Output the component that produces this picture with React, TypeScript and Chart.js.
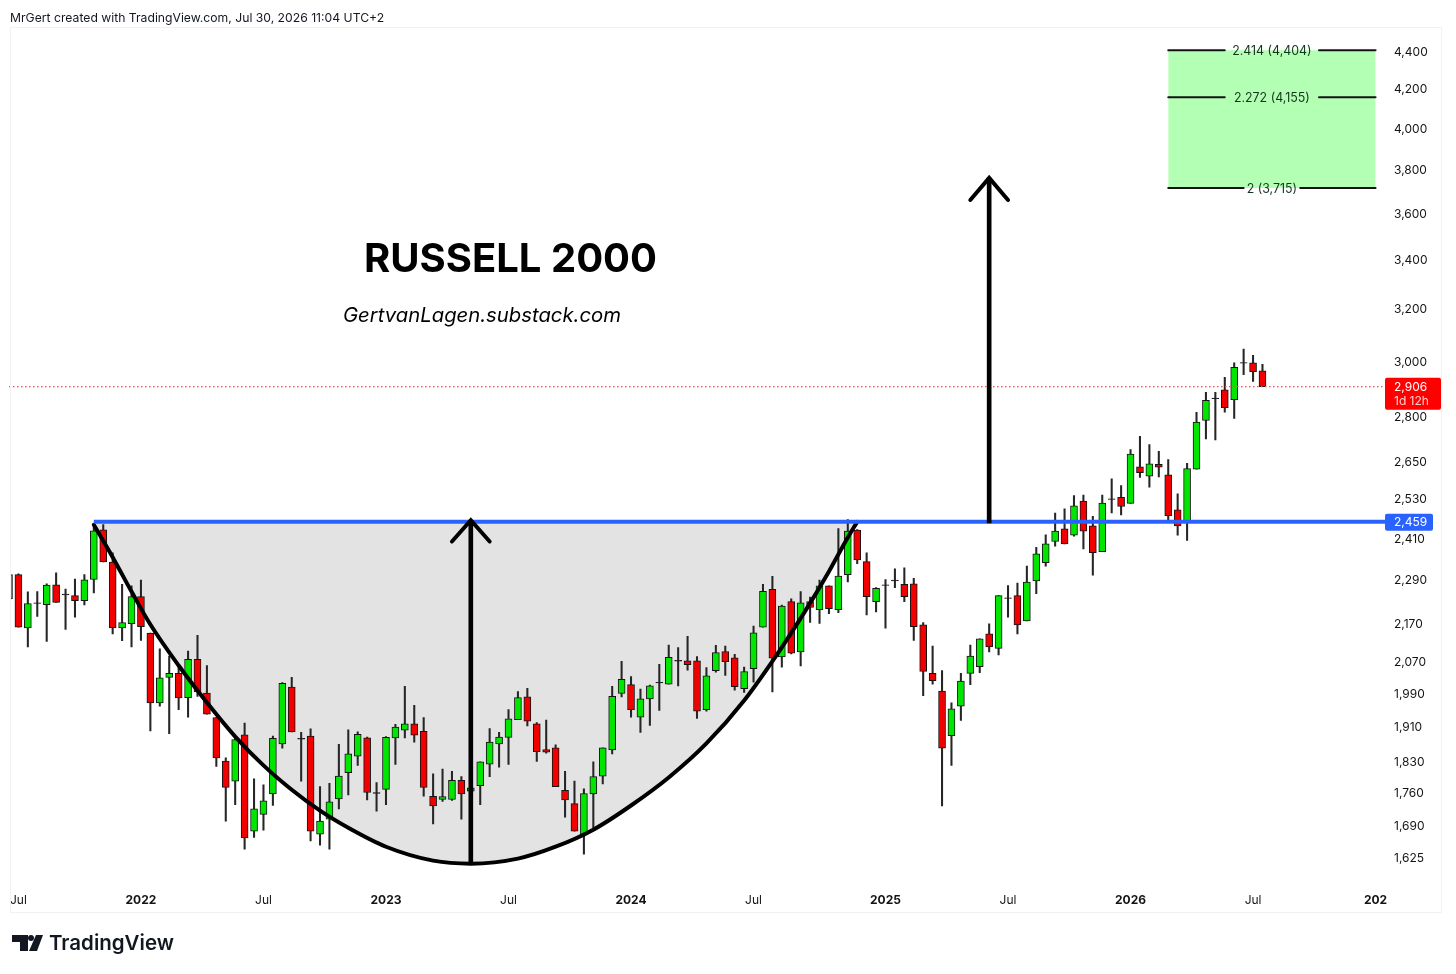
import React, { useEffect, useRef } from "react";
import { Chart } from "chart.js/auto";

const FONT = "Inter, 'Liberation Sans', sans-serif";

// Weekly candles, Russell 2000 (one entry per week)
const opens = [2236,2304,2157,2225,2220,2275,2249,2245,2231,2290,2435,2340,2157,2168,2242,2143,1966,2029,2039,1979,2075,1990,1931,1830,1785,1890,1678,1713,1757,1869,2005,1882,1887,1672,1703,1746,1804,1841,1883,1760,1767,1883,1901,1916,1898,1752,1745,1745,1787,1763,1775,1823,1869,1884,1926,1981,1916,1856,1860,1765,1736,1670,1757,1796,1855,1989,2011,1932,1976,2017,2012,2072,2071,2071,1950,2046,2095,2079,2001,2051,2159,2262,2081,2228,2094,2228,2206,2272,2206,2304,2434,2341,2228,2275,2288,2276,2278,2165,2039,1995,1888,1958,2039,2056,2141,2103,2239,2245,2176,2286,2338,2400,2438,2419,2523,2447,2370,2530,2535,2516,2632,2602,2640,2606,2496,2459,2624,2787,2865,2895,2860,2994,2993,2963];
const highs = [2306,2306,2255,2256,2278,2309,2263,2291,2304,2443,2451,2367,2276,2272,2288,2143,2102,2083,2055,2096,2137,2059,1931,1837,1884,1918,1790,1777,1887,2016,2029,1896,1904,1773,1780,1868,1902,1897,1885,1782,1886,1915,2007,1960,1931,1801,1812,1807,1795,1790,1828,1905,1896,1950,1994,2002,1919,1925,1867,1807,1785,1768,1828,1860,2007,2070,2031,2000,2010,2062,2112,2105,2135,2082,2054,2111,2109,2088,2055,2162,2276,2299,2219,2236,2256,2241,2288,2272,2439,2466,2436,2367,2267,2290,2320,2323,2293,2171,2109,2046,1966,2039,2112,2128,2168,2245,2273,2280,2328,2383,2420,2486,2499,2540,2542,2476,2542,2593,2572,2689,2733,2705,2683,2656,2546,2643,2815,2886,2886,2940,2993,3044,3021,2987];
const lows = [2230,2159,2107,2188,2121,2226,2153,2186,2219,2252,2340,2141,2123,2107,2124,1899,1958,1893,1950,1932,1982,1939,1818,1699,1734,1641,1665,1680,1732,1859,1897,1785,1658,1649,1641,1725,1755,1820,1744,1720,1734,1822,1883,1873,1752,1693,1741,1743,1703,1720,1734,1795,1816,1822,1926,1911,1829,1848,1773,1707,1678,1631,1680,1779,1846,1981,1932,1896,1912,1948,2012,2008,2047,1929,1946,2042,2034,1997,1992,2017,2159,1993,2055,2089,2058,2172,2169,2195,2198,2283,2335,2192,2200,2156,2267,2228,2124,1984,2012,1731,1820,1924,2011,2041,2094,2086,2186,2141,2176,2250,2328,2386,2393,2416,2378,2302,2370,2486,2480,2516,2598,2567,2599,2464,2419,2403,2624,2724,2721,2816,2794,2949,2925,2906];
const closes = [2304,2159,2223,2223,2274,2226,2247,2231,2289,2432,2340,2157,2171,2242,2160,1966,2028,2039,1978,2075,1993,1939,1837,1771,1879,1664,1725,1742,1882,2014,1897,1880,1678,1699,1740,1796,1846,1891,1760,1758,1884,1908,1916,1889,1771,1731,1751,1787,1757,1770,1828,1873,1885,1928,1979,1922,1851,1850,1773,1744,1678,1758,1795,1860,1982,2024,1950,1976,2008,2015,2080,2070,2061,1946,2033,2092,2069,2006,2044,2144,2257,2078,2216,2091,2225,2212,2272,2209,2300,2431,2346,2242,2265,2273,2286,2242,2160,2044,2021,1859,1952,2020,2083,2128,2107,2245,2237,2165,2283,2364,2393,2431,2393,2508,2431,2367,2517,2528,2506,2674,2613,2642,2631,2478,2447,2626,2782,2857,2863,2832,2976,2992,2960,2906];

// Time axis
const barCount = 147;
const timeTickSlots = [1, 14, 27, 40, 53, 66, 79, 93, 106, 119, 132, 145];
const timeTickTexts = ["Jul", "2022", "Jul", "2023", "Jul", "2024", "Jul", "2025", "Jul", "2026", "Jul", "202"];

// Price axis
const priceTicks = [4400, 4200, 4000, 3800, 3600, 3400, 3200, 3000, 2800, 2650, 2530, 2410, 2290, 2170, 2070, 1990, 1910, 1830, 1760, 1690, 1625];
const priceMin = 1570;
const priceMax = 4532;

// Cup drawing
const cupSlots = [9, 11, 13, 15, 18, 21, 24, 27, 30, 33, 36, 40, 45, 49, 54, 58, 62, 66, 70, 74, 78, 82, 85, 87, 89, 90];
const cupPrices = [2450, 2354, 2256, 2166, 2059, 1967, 1886, 1820, 1766, 1721, 1685, 1646, 1618, 1612, 1622, 1646, 1681, 1732, 1793, 1870, 1972, 2106, 2224, 2313, 2412, 2459];

// Horizontal levels
const rimPrice = 2459;
const rimSlots = [9, 146];
const lastPrice = 2906;
const lastSlots = [0, 146];

// Arrows
const arrowSlots = [49, 104];
const arrowBottoms = [1612, 2456];
const arrowTops = [2464, 3761];
const arrowWings = [2400, 3660];

// Fibonacci target box
const fibTexts = ["2.414 (4,404)", "2.272 (4,155)", "2 (3,715)"];
const fibPrices = [4404, 4155, 3715];
const fibGapStart = [129, 129, 131];
const fibGapEnd = [139, 139, 137];
const fibFrom = 123;
const fibTo = 145;

const GREEN = "#00e600";
const RED = "#f20000";
const INK = "#141414";

const categories = Array.from({ length: barCount }, () => "");
timeTickSlots.forEach((s, i) => (categories[s] = timeTickTexts[i]));

function sparse(slots: number[], values: any[]) {
  const out: any[] = Array.from({ length: barCount }, () => null);
  slots.forEach((s, i) => (out[s] = values[i]));
  return out;
}

function roundBox(ctx: any, x: number, y: number, w: number, h: number, r: number, color: string) {
  ctx.fillStyle = color;
  ctx.beginPath();
  ctx.roundRect(x, y, w, h, r);
  ctx.fill();
}

const overlay = {
  id: "overlay",
  afterDraw(chart: any) {
    const { ctx, scales } = chart;
    const x = scales.x;
    const y = scales.y;
    ctx.save();
    ctx.textBaseline = "middle";

    // Fibonacci labels
    ctx.font = `12.4px ${FONT}`;
    ctx.textAlign = "center";
    ctx.fillStyle = "#16351f";
    fibTexts.forEach((t, i) => {
      ctx.fillText(t, x.getPixelForValue(134), y.getPixelForValue(fibPrices[i]) + 1);
    });

    // Price tags
    const py = y.getPixelForValue(lastPrice);
    roundBox(ctx, 1385, py - 9, 56, 32, 2, "#ff0000");
    ctx.textAlign = "left";
    ctx.font = `12px ${FONT}`;
    ctx.fillStyle = "#ffffff";
    ctx.fillText("2,906", 1394, py + 0.5);
    ctx.fillStyle = "#ffd0d0";
    ctx.fillText("1d 12h", 1394, py + 14.5);
    const ry = y.getPixelForValue(rimPrice);
    roundBox(ctx, 1385, ry - 8, 48, 17, 2, "#2962ff");
    ctx.fillStyle = "#ffffff";
    ctx.fillText("2,459", 1394, ry + 0.5);

    // Titles
    ctx.fillStyle = "#000000";
    ctx.font = `bold 40px ${FONT}`;
    ctx.fillText("RUSSELL 2000", 364, 260);
    ctx.font = `italic 20.3px ${FONT}`;
    ctx.fillText("GertvanLagen.substack.com", 343, 316);

    // Header
    ctx.fillStyle = "#131722";
    ctx.font = `12.2px ${FONT}`;
    ctx.fillText("MrGert created with TradingView.com, Jul 30, 2026 11:04 UTC+2", 10, 18);

    // Logo
    ctx.fillStyle = "#131722";
    ctx.beginPath();
    ctx.moveTo(12, 935);
    ctx.lineTo(28, 935);
    ctx.lineTo(28, 951);
    ctx.lineTo(20, 951);
    ctx.lineTo(20, 942);
    ctx.lineTo(12, 942);
    ctx.closePath();
    ctx.fill();
    ctx.beginPath();
    ctx.arc(31, 938, 3, 0, Math.PI * 2);
    ctx.fill();
    ctx.beginPath();
    ctx.moveTo(36, 935);
    ctx.lineTo(43, 935);
    ctx.lineTo(37, 951);
    ctx.lineTo(29, 951);
    ctx.closePath();
    ctx.fill();
    ctx.font = `600 20.5px ${FONT}`;
    ctx.fillText("TradingView", 49, 944);

    // Frame
    ctx.strokeStyle = "#f2f2f2";
    ctx.lineWidth = 1;
    ctx.strokeRect(10.5, 27.5, 1431, 885);
    ctx.restore();
  },
};

function lineSet(data: any[], color: string, width: number, order: number, extra: any = {}) {
  return {
    type: "line",
    data,
    borderColor: color,
    backgroundColor: color,
    borderWidth: width,
    pointRadius: 0,
    spanGaps: true,
    tension: 0,
    fill: false,
    order,
    borderCapStyle: "round",
    ...extra,
  };
}

const paneClip = { left: -1.5, right: 0, top: 0, bottom: 0 };

export default function App() {
  const ref = useRef<HTMLCanvasElement | null>(null);
  useEffect(() => {
    const bodies = opens.map((o, i) => [o, closes[i]]);
    const wicks = lows.map((l, i) => [l, highs[i]]);
    const colors = opens.map((o, i) => (Math.abs(closes[i] - o) <= 2 ? INK : closes[i] >= o ? GREEN : RED));

    const fibSegments: any[] = [];
    fibPrices.forEach((p, i) => {
      fibSegments.push(lineSet(sparse([fibFrom, fibGapStart[i]], [p, p]), INK, 2, 1));
      fibSegments.push(lineSet(sparse([fibGapEnd[i], fibTo], [p, p]), INK, 2, 1));
    });

    const chart = new Chart(ref.current as any, {
      type: "bar",
      data: {
        labels: categories,
        datasets: [
          lineSet(sparse([fibFrom, fibTo], [fibPrices[0], fibPrices[0]]), "rgba(0,0,0,0)", 0, 9, {
            fill: { target: { value: fibPrices[2] } },
            backgroundColor: "#b3ffb3",
          }),
          {
            type: "bar",
            data: wicks,
            grouped: false,
            barThickness: 1.4,
            backgroundColor: "#262626",
            borderWidth: 0,
            order: 5,
            clip: paneClip,
          },
          {
            type: "bar",
            data: bodies,
            grouped: false,
            barThickness: 7,
            backgroundColor: colors,
            borderColor: INK,
            borderWidth: 1,
            borderSkipped: false,
            order: 4,
            clip: paneClip,
          },
          lineSet(sparse(lastSlots, [lastPrice, lastPrice]), "#ff4a4a", 1.2, 3, { borderDash: [1.5, 2.5], borderCapStyle: "butt" }),
          lineSet(sparse(cupSlots, cupPrices), "#000000", 4, 2, {
            cubicInterpolationMode: "monotone",
            fill: { target: { value: rimPrice } },
            backgroundColor: "#e3e3e3",
          }),
          lineSet(sparse(rimSlots, [rimPrice, rimPrice]), "#2962ff", 4, 1, { borderCapStyle: "butt" }),
          {
            type: "bar",
            data: sparse(arrowSlots, arrowBottoms.map((b, i) => [b, arrowTops[i]])),
            grouped: false,
            barThickness: 4,
            backgroundColor: "#000000",
            borderWidth: 0,
            order: 0,
          },
          lineSet(sparse([47, 49, 51], [arrowWings[0], arrowTops[0], arrowWings[0]]), "#000000", 4, 0),
          lineSet(sparse([102, 104, 106], [arrowWings[1], arrowTops[1], arrowWings[1]]), "#000000", 4, 0),
          ...fibSegments,
        ],
      },
      options: {
        responsive: false,
        animation: false,
        events: [],
        layout: { autoPadding: false, padding: { left: 9, top: 27, right: 0, bottom: 0 } },
        plugins: {
          legend: { display: false },
          tooltip: { enabled: false },
          filler: { drawTime: "beforeDatasetsDraw" },
        },
        scales: {
          x: {
            type: "category",
            offset: false,
            grid: { display: false, drawTicks: false },
            border: { display: false },
            afterFit: (s: any) => {
              s.height = 89;
            },
            ticks: {
              autoSkip: false,
              maxRotation: 0,
              minRotation: 0,
              padding: 8,
              color: "#141414",
              font: (c: any) => ({
                family: FONT,
                size: 12,
                weight: /^\d/.test(categories[c.index] || "") ? "bold" : "normal",
              }),
            },
          },
          y: {
            type: "logarithmic",
            position: "right",
            min: priceMin,
            max: priceMax,
            bounds: "data",
            grid: { display: false, drawTicks: false },
            border: { display: false },
            afterFit: (s: any) => {
              s.width = 71;
            },
            afterBuildTicks: (s: any) => {
              s.ticks = priceTicks.map((value) => ({ value }));
            },
            ticks: {
              autoSkip: false,
              padding: 9,
              labelOffset: 1,
              color: "#141414",
              font: { family: FONT, size: 12 },
              callback: (v: any) => Number(v).toLocaleString("en-US"),
            },
          },
        },
      } as any,
      plugins: [overlay],
    } as any);
    return () => chart.destroy();
  }, []);
  return (
    <div style={{ position: "absolute", left: 0, top: 0, width: 1456, height: 974, background: "#ffffff" }}>
      <canvas ref={ref} width={1456} height={974} style={{ display: "block", width: 1456, height: 974 }} />
    </div>
  );
}
